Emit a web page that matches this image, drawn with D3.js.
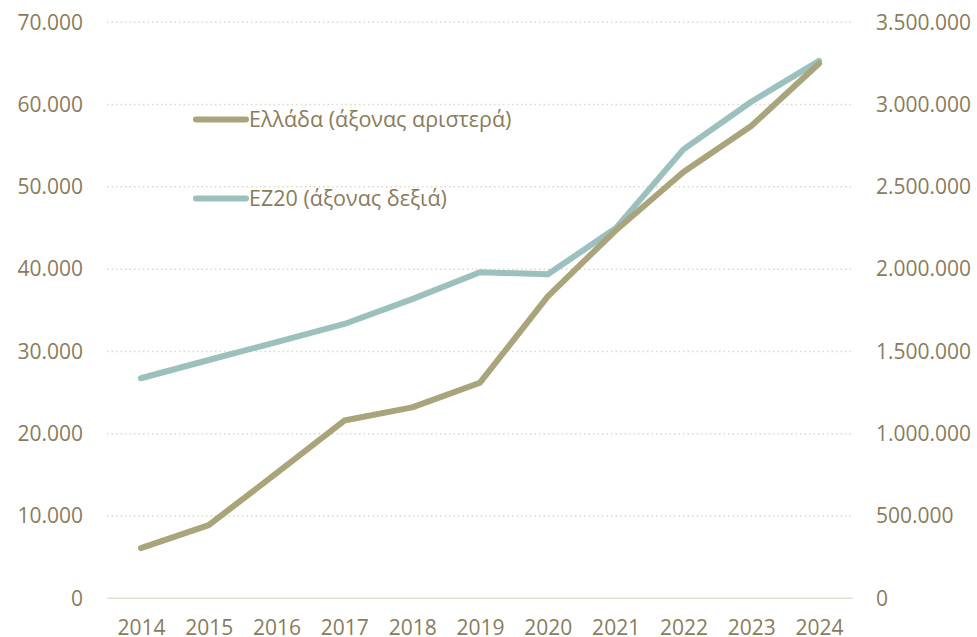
<!DOCTYPE html>
<html>
<head>
<meta charset="utf-8">
<script src="https://cdn.jsdelivr.net/npm/d3@7"></script>
<style>
  body { margin: 0; background: #fff; }
  .ejes text { font-family: "Open Sans", sans-serif; font-size: 21px; fill: #8a7b5c; }
  .ejes path { display: none; }
  .leyenda { font-family: "Open Sans", sans-serif; font-size: 21.5px; fill: #8a7b5c; }
</style>
</head>
<body>
<div id="graf"></div>
<script>
// datos
const years = [2014, 2015, 2016, 2017, 2018, 2019, 2020, 2021, 2022, 2023, 2024]
const ellada = [6100, 8900, 15200, 21600, 23200, 26200, 36700, 44700, 51800, 57400, 65000]
const ez20 = [1337000, 1448000, 1557000, 1667000, 1818000, 1981000, 1969000, 2248000, 2728000, 3017000, 3266000]
const ticksLeft = [0, 10000, 20000, 30000, 40000, 50000, 60000, 70000]
const ticksRight = [0, 500000, 1000000, 1500000, 2000000, 2500000, 3000000, 3500000]

const anchoTotal = 977
const altoTotal = 637
const margins = { left: 107, top: 22.3, right: 124, bottom: 38.7 }
const ancho = anchoTotal - margins.left - margins.right
const alto = altoTotal - margins.top - margins.bottom

const colorGr = "#a9a47b"
const colorEz = "#9cc0bd"

const svg = d3.select("#graf")
  .append("svg")
  .attr("width", anchoTotal)
  .attr("height", altoTotal)

const g = svg.append("g")
  .attr("transform", `translate(${margins.left}, ${margins.top})`)

const x = d3.scalePoint().domain(years).range([0, ancho]).padding(0.5)
const yL = d3.scaleLinear().domain([0, 70000]).range([alto, 0])
const yR = d3.scaleLinear().domain([0, 3500000]).range([alto, 0])

const fmt = d3.formatLocale({ decimal: ",", thousands: ".", grouping: [3], currency: ["", "€"] }).format(",")

// líneas de cuadrícula
g.selectAll("line.grid")
  .data(ticksLeft.filter((d) => d > 0))
  .enter()
  .append("line")
  .attr("class", "grid")
  .attr("x1", 0)
  .attr("x2", ancho)
  .attr("y1", (d) => yL(d))
  .attr("y2", (d) => yL(d))
  .attr("stroke", "#dcd9c9")
  .attr("stroke-width", 1.5)
  .attr("stroke-dasharray", "1.5,3")

g.append("line")
  .attr("x1", 0)
  .attr("x2", ancho)
  .attr("y1", yL(0))
  .attr("y2", yL(0))
  .attr("stroke", "#e4dfd3")
  .attr("stroke-width", 1.5)

// ejes
g.append("g")
  .attr("class", "ejes")
  .attr("transform", "translate(-24, 0)")
  .call(d3.axisLeft(yL).tickValues(ticksLeft).tickFormat(fmt).tickSize(0).tickPadding(0))

g.append("g")
  .attr("class", "ejes")
  .attr("transform", `translate(${ancho + 23}, 0)`)
  .call(d3.axisRight(yR).tickValues(ticksRight).tickFormat(fmt).tickSize(0).tickPadding(0))

g.append("g")
  .attr("class", "ejes")
  .attr("transform", `translate(0, ${alto})`)
  .call(d3.axisBottom(x).tickSize(0).tickPadding(22))

// series
const lineaGr = d3.line().x((d, i) => x(years[i])).y((d) => yL(d))
const lineaEz = d3.line().x((d, i) => x(years[i])).y((d) => yR(d))

g.append("path")
  .datum(ez20)
  .attr("d", lineaEz)
  .attr("fill", "none")
  .attr("stroke", colorEz)
  .attr("stroke-width", 6)
  .attr("stroke-linecap", "round")
  .attr("stroke-linejoin", "round")

g.append("path")
  .datum(ellada)
  .attr("d", lineaGr)
  .attr("fill", "none")
  .attr("stroke", colorGr)
  .attr("stroke-width", 6)
  .attr("stroke-linecap", "round")
  .attr("stroke-linejoin", "round")

// leyenda
const leyenda = [
  { nombre: "Ελλάδα (άξονας αριστερά)", color: colorGr, y: 119.5 },
  { nombre: "ΕΖ20 (άξονας δεξιά)", color: colorEz, y: 198.5 }
]

const item = svg.selectAll("g.leg")
  .data(leyenda)
  .enter()
  .append("g")
  .attr("class", "leg")
  .attr("transform", (d) => `translate(196, ${d.y})`)

item.append("line")
  .attr("x1", 0)
  .attr("x2", 50)
  .attr("stroke", (d) => d.color)
  .attr("stroke-width", 6)
  .attr("stroke-linecap", "round")

item.append("text")
  .attr("class", "leyenda")
  .attr("x", 53)
  .attr("dy", "0.35em")
  .text((d) => d.nombre)
</script>
</body>
</html>
